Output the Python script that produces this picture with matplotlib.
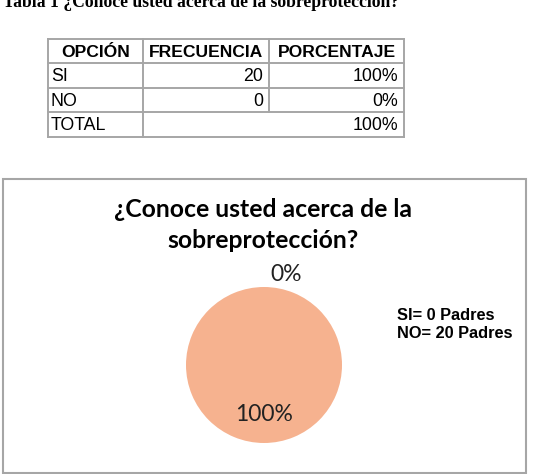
import matplotlib.pyplot as plt
from matplotlib.patches import Rectangle

# Datos de la tabla
encabezados = ["OPCIÓN", "FRECUENCIA", "PORCENTAJE"]
opciones = ["SI", "NO", "TOTAL"]
frecuencias = ["20", "0", ""]
porcentajes = ["100%", "0%", "100%"]

# Datos del gráfico
categorias = ["NO", "SI"]
valores = [20, 0]
leyenda = ["SI= 0 Padres", "NO= 20 Padres"]
titulo_tabla = "Tabla 1 ¿Conoce usted acerca de la sobreprotección?"
titulo_grafico = "¿Conoce usted acerca de la\nsobreprotección?"

color_pie = "#F6B28F"
color_borde = "#A6A6A6"

W, H = 534, 474
fig = plt.figure(figsize=(W / 100, H / 100), dpi=100)
fondo = fig.add_axes([0, 0, 1, 1])
fondo.set_xlim(0, W)
fondo.set_ylim(H, 0)
fondo.axis("off")

# Título de la tabla (cortado arriba)
fondo.text(3, 7, titulo_tabla, family="Liberation Serif", weight="bold",
           fontsize=12.7, va="baseline", ha="left")

# Tabla
col_x = [48, 143, 269, 404]
fila_y = [39, 63, 88, 112, 137]
kw = dict(color=color_borde, lw=1.4)
for y in fila_y:
    fondo.plot([col_x[0], col_x[-1]], [y, y], **kw)
for i, x in enumerate(col_x):
    y_fin = fila_y[-2] if i == 2 else fila_y[-1]
    fondo.plot([x, x], [fila_y[0], y_fin], **kw)

for j, txt in enumerate(encabezados):
    fondo.text((col_x[j] + col_x[j + 1]) / 2, (fila_y[0] + fila_y[1]) / 2 + 1, txt,
               family="Liberation Sans", weight="bold", fontsize=12.6,
               ha="center", va="center")
for i in range(len(opciones)):
    yc = (fila_y[i + 1] + fila_y[i + 2]) / 2 + 1
    fondo.text(col_x[0] + 3, yc, opciones[i], family="Liberation Sans",
               fontsize=12.8, ha="left", va="center")
    if frecuencias[i]:
        fondo.text(col_x[2] - 6, yc, frecuencias[i], family="Liberation Sans",
                   fontsize=12.8, ha="right", va="center")
    fondo.text(col_x[3] - 6, yc, porcentajes[i], family="Liberation Sans",
               fontsize=12.8, ha="right", va="center")

# Marco del gráfico
fondo.add_patch(Rectangle((3, 179), 523, 294, fill=False, ec=color_borde, lw=1.5))

fondo.text(263, 225, titulo_grafico, family="Lato", weight="bold",
           fontsize=17.8, ha="center", va="center", linespacing=1.4)

# Pastel
cx, cy, r = 264, 365, 78
ax = fig.add_axes([(cx - r) / W, 1 - (cy + r) / H, 2 * r / W, 2 * r / H])
wedges, textos, autotextos = ax.pie(valores, colors=[color_pie, color_pie],
                                    startangle=90, counterclock=False,
                                    autopct="%1.0f%%", pctdistance=0.64,
                                    wedgeprops=dict(linewidth=0),
                                    textprops=dict(family="Lato", fontsize=16.5,
                                                   color="#222222"))
autotextos[1].set_position((0.28, 1.16))
ax.set_xlim(-1, 1)
ax.set_ylim(-1, 1)

fondo.text(397, 316, leyenda[0], family="Liberation Sans", weight="bold",
           fontsize=11.8, ha="left", va="center")
fondo.text(397, 334, leyenda[1], family="Liberation Sans", weight="bold",
           fontsize=11.8, ha="left", va="center")

fig.savefig("out.png", dpi=100)
